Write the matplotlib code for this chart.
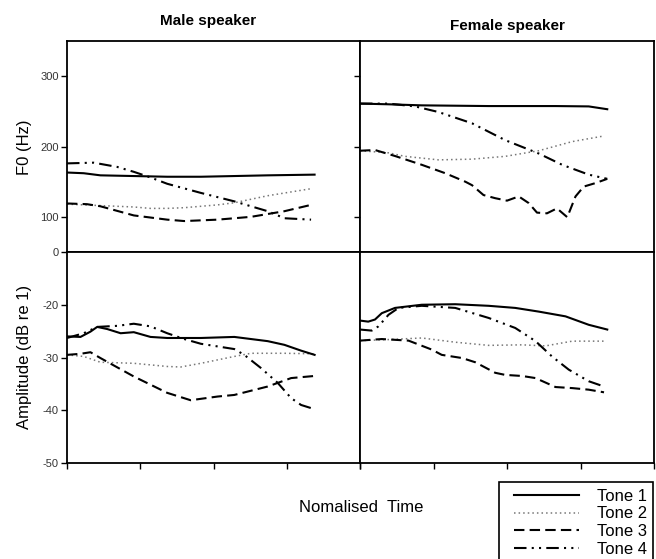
#Tone contours: F0 and amplitude, male vs female speaker
import matplotlib.pyplot as plt
from matplotlib.lines import Line2D
from matplotlib.patches import Rectangle

plt.rcParams['font.family'] = ['Liberation Sans', 'DejaVu Sans']

tones = ["Tone 1", "Tone 2", "Tone 3", "Tone 4"]

# normalised time in % of the axis
#MALE F0 (Hz)
m_f0_t1_x = [0, 5.7, 11.4, 22.8, 34.2, 45.7, 57.1, 68.5, 84.5]
m_f0_t1_y = [163, 162, 159, 158, 157, 157, 158, 159, 160]
m_f0_t2_x = [0, 11.4, 22.8, 28.5, 34.2, 40.0, 45.7, 51.4, 57.1, 68.5, 83.3]
m_f0_t2_y = [118, 116, 114, 112, 112, 113, 115, 117, 120, 130, 140]
m_f0_t3_x = [0, 6.8, 11.4, 22.8, 34.2, 40.0, 51.4, 62.8, 74.2, 83.3]
m_f0_t3_y = [119, 118, 115, 102, 96, 94, 96, 100, 108, 117]
m_f0_t4_x = [0, 9.1, 17.1, 22.8, 28.5, 34.2, 45.7, 57.1, 68.5, 74.2, 83.3]
m_f0_t4_y = [176, 177, 171, 164, 156, 147, 134, 122, 108, 98, 96]

#FEMALE F0 (Hz)
f_f0_t1_x = [0, 9.7, 21.0, 43.75, 66.5, 77.8, 84.1]
f_f0_t1_y = [261, 260, 258.5, 257.5, 257.5, 257, 253]
f_f0_t2_x = [0, 9.7, 15.3, 26.7, 38.1, 49.4, 60.8, 72.2, 83.0]
f_f0_t2_y = [194, 191, 186, 181, 182, 186, 194, 207, 215]
f_f0_t3_x = [0, 5.1, 11.9, 21.0, 29.0, 35.8, 38.1, 42.0, 46.0, 50.0, 54.0, 57.4,
             60.2, 63.6, 67.0, 70.5, 73.3, 76.1, 80.1, 84.1]
f_f0_t3_y = [194, 195, 186.5, 174, 162, 150, 145, 131, 126.5, 123, 129, 119.5,
             106, 105, 112, 99.5, 129, 143, 148, 154]
f_f0_t4_x = [0, 9.7, 18.75, 26.7, 38.1, 49.4, 60.8, 68.75, 77.8, 84.1]
f_f0_t4_y = [261, 261, 257, 249, 233, 209, 190, 174, 160, 154]

#MALE AMPLITUDE (dB)
m_amp_t1_x = [0, 4.6, 8.0, 10.3, 13.7, 18.3, 22.8, 28.5, 34.2, 45.7, 57.1, 62.8, 68.5, 74.2, 79.9, 84.5]
m_amp_t1_y = [-26, -26.1, -25.1, -24.2, -24.6, -25.4, -25.2, -26.1, -26.3, -26.3, -26.1, -26.5,
              -26.9, -27.6, -28.7, -29.5]
m_amp_t2_x = [0, 5.7, 11.4, 22.8, 34.2, 38.8, 45.7, 57.1, 62.8, 74.2, 84.5]
m_amp_t2_y = [-29.5, -29.8, -30.9, -31.1, -31.7, -31.8, -31.1, -29.8, -29.2, -29.2, -29.3]
m_amp_t3_x = [0, 4.6, 8.0, 11.4, 22.8, 34.2, 42.2, 51.4, 57.1, 68.5, 76.5, 84.5]
m_amp_t3_y = [-29.5, -29.3, -29.0, -30.1, -33.6, -36.7, -38.1, -37.4, -37.1, -35.5, -33.9, -33.5]
m_amp_t4_x = [0, 5.7, 10.3, 17.1, 22.8, 28.5, 34.2, 40.0, 45.7, 51.4, 57.1, 60.5, 66.2,
              71.9, 76.5, 79.9, 84.5]
m_amp_t4_y = [-26.3, -25.4, -24.2, -24.0, -23.6, -24.1, -25.4, -26.5, -27.4, -27.9, -28.4,
              -29.5, -32.0, -34.8, -37.7, -39.0, -39.8]

#FEMALE AMPLITUDE (dB)
f_amp_t1_x = [0, 2.8, 5.1, 7.4, 11.9, 21.0, 32.4, 43.75, 52.8, 60.8, 69.9, 77.8, 84.1]
f_amp_t1_y = [-23.0, -23.2, -22.8, -21.6, -20.6, -20.0, -19.9, -20.2, -20.6, -21.3, -22.2, -23.8, -24.7]
f_amp_t2_x = [0, 9.7, 21.0, 32.4, 43.75, 55.1, 63.1, 72.2, 83.0]
f_amp_t2_y = [-26.8, -26.6, -26.3, -27.1, -27.7, -27.6, -27.8, -26.9, -26.9]
f_amp_t3_x = [0, 7.4, 16.5, 24.4, 27.8, 34.7, 39.2, 46.0, 49.4, 55.1, 59.7, 66.5, 72.2, 77.8, 83.0]
f_amp_t3_y = [-26.8, -26.5, -26.8, -28.5, -29.5, -30.1, -30.9, -32.9, -33.3, -33.5, -33.9,
              -35.6, -35.8, -36.1, -36.6]
f_amp_t4_x = [0, 4.0, 6.25, 9.7, 13.1, 21.0, 32.4, 43.75, 52.8, 59.7, 65.3, 71.0, 77.8, 83.0]
f_amp_t4_y = [-24.7, -24.9, -24.1, -21.9, -20.6, -20.2, -20.6, -22.5, -24.4, -26.9, -29.8,
              -32.3, -34.5, -35.5]

styles = [
    dict(color="black", lw=1.5, ls="-"),
    dict(color="#777777", lw=1.1, ls=(0, (1, 2))),
    dict(color="black", lw=1.5, ls=(0, (5, 2.5))),
    dict(color="black", lw=1.5, ls=(0, (6, 2.5, 1, 2.5, 1, 2.5))),
]

fig = plt.figure(figsize=(6.56, 5.59), dpi=100)
W, H = 656, 559
def box(x0, y0, x1, y1):
    return [x0 / W, 1 - y1 / H, (x1 - x0) / W, (y1 - y0) / H]

ax_mf = fig.add_axes(box(67, 41, 360, 252))
ax_ff = fig.add_axes(box(360, 41, 654, 252))
ax_ma = fig.add_axes(box(67, 252, 360, 463))
ax_fa = fig.add_axes(box(360, 252, 654, 463))

panels = [
    (ax_mf, [(m_f0_t1_x, m_f0_t1_y), (m_f0_t2_x, m_f0_t2_y), (m_f0_t3_x, m_f0_t3_y), (m_f0_t4_x, m_f0_t4_y)]),
    (ax_ff, [(f_f0_t1_x, f_f0_t1_y), (f_f0_t2_x, f_f0_t2_y), (f_f0_t3_x, f_f0_t3_y), (f_f0_t4_x, f_f0_t4_y)]),
    (ax_ma, [(m_amp_t1_x, m_amp_t1_y), (m_amp_t2_x, m_amp_t2_y), (m_amp_t3_x, m_amp_t3_y), (m_amp_t4_x, m_amp_t4_y)]),
    (ax_fa, [(f_amp_t1_x, f_amp_t1_y), (f_amp_t2_x, f_amp_t2_y), (f_amp_t3_x, f_amp_t3_y), (f_amp_t4_x, f_amp_t4_y)]),
]

for ax, series in panels:
    # draw tone 2 first so the black lines sit on top
    for i in [1, 0, 2, 3]:
        x, y = series[i]
        ax.plot(x, y, **styles[i])
    ax.set_xlim(0, 100)
    for s in ax.spines.values():
        s.set_linewidth(1.3)
    ax.tick_params(direction="out", length=4, width=1, labelsize=8, pad=2)

# F0 row
for ax in (ax_mf, ax_ff):
    ax.set_ylim(50, 350)
    ax.set_yticks([50, 100, 200, 300])
ax_mf.set_yticklabels(["0", "100", "200", "300"], color="#333333")
ax_ff.set_yticklabels([])
ax_mf.set_xticks([])
ax_ff.set_xticks([25, 50, 75])
ax_ff.set_xticklabels([])

# amplitude row
for ax in (ax_ma, ax_fa):
    ax.set_ylim(-50, -10)
    ax.set_xticks([0, 25, 50, 75, 100])
    ax.set_xticklabels([])
ax_ma.set_yticks([-20, -30, -40, -50])
ax_ma.set_yticklabels(["-20", "-30", "-40", "-50"], color="#333333")
ax_fa.set_yticks([])

fig.text(208 / W, 1 - 21.5 / H, "Male speaker", ha="center", va="center", fontsize=11, fontweight="bold")
fig.text(507 / W, 1 - 26 / H, "Female speaker", ha="center", va="center", fontsize=11, fontweight="bold")
fig.text(25 / W, 1 - 147 / H, "F0 (Hz)", rotation=90, ha="center", va="center", fontsize=12)
fig.text(25 / W, 1 - 357 / H, "Amplitude (dB re 1)", rotation=90, ha="center", va="center", fontsize=12)
fig.text(361 / W, 1 - 507.5 / H, "Nomalised  Time", ha="center", va="center", fontsize=12)

# legend frame runs off the bottom of the picture
fig.patches.append(Rectangle((499 / W, 1 - 570 / H), (653 - 499) / W, (570 - 482) / H,
                             transform=fig.transFigure, fill=False, ec="black", lw=1.2))
handles = [Line2D([], [], **st) for st in styles]
fig.legend(handles, tones, loc="upper left", bbox_to_anchor=(514 / W, 1 - 489 / H),
           frameon=False, fontsize=12, handlelength=3.9, handletextpad=1.1,
           labelspacing=0.15, borderpad=0, borderaxespad=0)

plt.savefig("out.png", dpi=100)
